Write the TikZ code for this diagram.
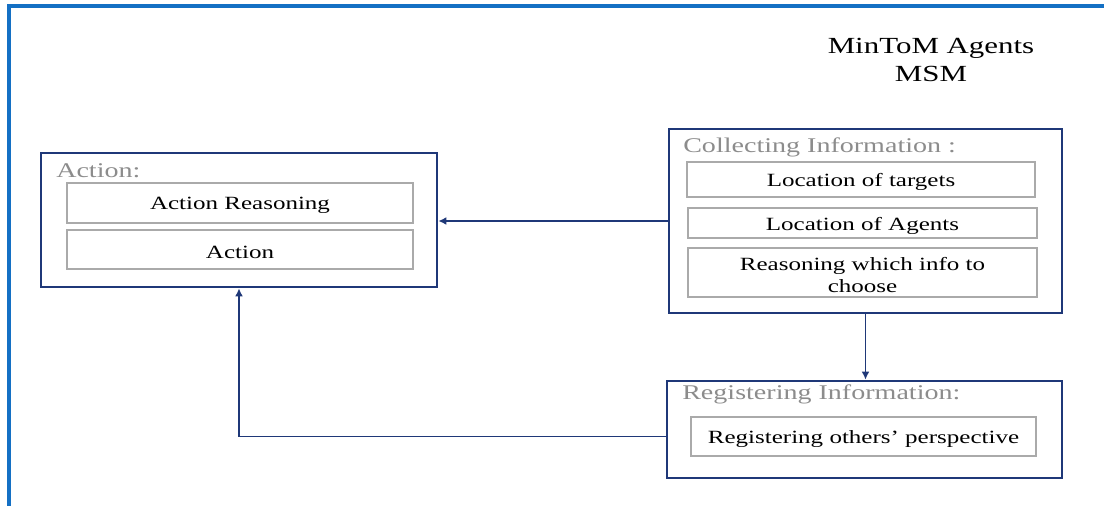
\documentclass[tikz,border=0pt]{standalone}
\usepackage{fontspec}
\setmainfont{Liberation Serif}
\newfontfamily\widefont[FakeStretch=1.34]{Liberation Serif}
\usetikzlibrary{arrows.meta}
\newcommand{\lowertxt}[1]{\raisebox{-2pt}[\height][\depth]{#1}}
\definecolor{frameblue}{RGB}{20,112,196}
\definecolor{navy}{RGB}{31,56,120}
\definecolor{boxgray}{RGB}{170,170,170}
\definecolor{titlegray}{RGB}{140,140,140}
\tikzset{
  outerbox/.style={draw=navy, line width=2.1pt, rectangle, inner sep=0pt},
  innerbox/.style={draw=boxgray, line width=1.8pt, rectangle, inner sep=0pt, align=center,
     font=\widefont\fontsize{14}{16.5}\selectfont, text=black},
  titletext/.style={anchor=west, inner sep=0pt, text=titlegray, font=\widefont\fontsize{15.7}{18}\selectfont},
  arr/.style={draw=navy, line width=1.3pt, -{Latex[length=6pt,width=6pt]}}
}
\begin{document}
\begin{tikzpicture}[x=0.75pt,y=-0.75pt]
\useasboundingbox (0,0) rectangle (1104,506);
\draw[frameblue, line width=2.8pt] (9,506) -- (9,6.2) -- (1104,6.2);

\node[inner sep=0pt, align=center, font=\widefont\fontsize{17.3}{21}\selectfont] (head) at (931,60) {MinToM Agents\\MSM};

% Action
\node[outerbox, minimum width=297pt, minimum height=100.5pt] (act) at (239,220) {};
\node[titletext] (acttitle) at (56,171) {Action:};
\node[innerbox, minimum width=259.5pt, minimum height=30pt] (actreason) at (240,203) {\lowertxt{Action Reasoning}};
\node[innerbox, minimum width=259.5pt, minimum height=29.25pt] (actact) at (240,249.5) {\lowertxt{Action}};

% Collecting
\node[outerbox, minimum width=294.75pt, minimum height=138pt] (coll) at (865.5,221) {};
\node[titletext] (colltitle) at (683,147) {Collecting Information :};
\node[innerbox, minimum width=261pt, minimum height=26.25pt] (loctarg) at (861,179.5) {\lowertxt{Location of targets}};
\node[innerbox, minimum width=261.75pt, minimum height=22.5pt] (locag) at (862.5,223) {\lowertxt{Location of Agents}};
\node[innerbox, minimum width=261.75pt, minimum height=36.75pt] (reasinfo) at (862.5,272.5) {\lowertxt{Reasoning which info to}\\\lowertxt{choose}};

% Registering
\node[outerbox, minimum width=296.25pt, minimum height=72.75pt] (reg) at (864.5,429.5) {};
\node[titletext] (regtitle) at (682,394) {Registering Information:};
\node[innerbox, minimum width=258.75pt, minimum height=29.25pt] (regin) at (863.5,436.5) {\lowertxt{Registering others’ perspective}};

% Connectors
\draw[arr] (coll.west) -- (coll.west -| act.east);
\draw[arr] (coll.south) -- (coll.south |- reg.north);
\draw[arr] (reg.west |- regin.center) -| (act.south);
\end{tikzpicture}
\end{document}
